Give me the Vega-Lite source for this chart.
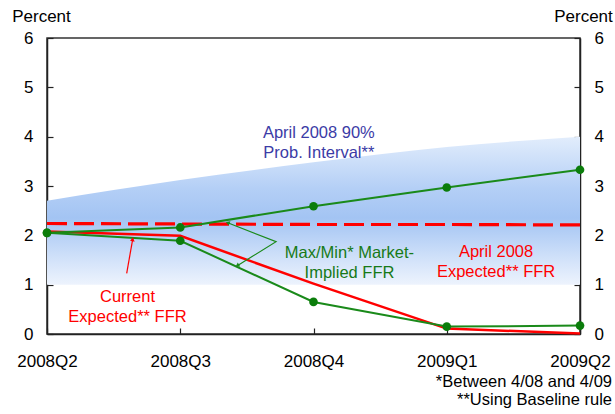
{
  "$schema": "https://vega.github.io/schema/vega-lite/v6.json",
  "width": 533,
  "height": 296,
  "autosize": {"type": "none"},
  "padding": {"left": 47, "top": 38, "right": 35, "bottom": 80},
  "config": {
    "view": {"stroke": "#333333", "strokeWidth": 1.5},
    "font": "Liberation Sans",
    "axis": {
      "labelFont": "Liberation Sans",
      "labelFontSize": 17,
      "labelColor": "#000000",
      "domainColor": "#222222",
      "domainWidth": 1.5,
      "tickColor": "#222222",
      "tickWidth": 1.2,
      "grid": false,
      "titleFont": "Liberation Sans",
      "titleFontSize": 17,
      "titleFontWeight": "normal",
      "titleColor": "#000000"
    }
  },
  "title": {
    "text": ["*Between 4/08 and 4/09", "**Using Baseline rule"],
    "orient": "bottom",
    "anchor": "end",
    "frame": "group",
    "fontSize": 16.5,
    "fontWeight": "normal",
    "font": "Liberation Sans",
    "color": "#000000",
    "dx": 32,
    "offset": 5,
    "lineHeight": 18
  },
  "datasets": {
    "band": [
      {"q": 0, "lo": 1.0, "hi": 2.7},
      {"q": 1, "lo": 1.0, "hi": 3.12},
      {"q": 2, "lo": 1.0, "hi": 3.48},
      {"q": 3, "lo": 1.0, "hi": 3.79},
      {"q": 4, "lo": 1.0, "hi": 4.0}
    ],
    "series": [
      {"q": 0, "s": "april", "v": 2.24},
      {"q": 1, "s": "april", "v": 2.23},
      {"q": 2, "s": "april", "v": 2.22},
      {"q": 3, "s": "april", "v": 2.22},
      {"q": 4, "s": "april", "v": 2.21},
      {"q": 0, "s": "current", "v": 2.08},
      {"q": 1, "s": "current", "v": 1.99},
      {"q": 2, "s": "current", "v": 1.02},
      {"q": 3, "s": "current", "v": 0.11},
      {"q": 4, "s": "current", "v": 0.01},
      {"q": 0, "s": "max", "v": 2.05},
      {"q": 1, "s": "max", "v": 2.16},
      {"q": 2, "s": "max", "v": 2.59},
      {"q": 3, "s": "max", "v": 2.97},
      {"q": 4, "s": "max", "v": 3.33},
      {"q": 0, "s": "min", "v": 2.05},
      {"q": 1, "s": "min", "v": 1.89},
      {"q": 2, "s": "min", "v": 0.65},
      {"q": 3, "s": "min", "v": 0.15},
      {"q": 4, "s": "min", "v": 0.17}
    ],
    "arrows": [
      {"a": "g", "o": 1, "x": 1.356, "y": 2.256},
      {"a": "g", "o": 2, "x": 1.719, "y": 1.871},
      {"a": "g", "o": 3, "x": 1.428, "y": 1.385},
      {"a": "r", "o": 1, "x": 0.598, "y": 1.23},
      {"a": "r", "o": 2, "x": 0.643, "y": 1.92}
    ],
    "heads": [
      {"h": "g1", "x": 1.356, "y": 2.256},
      {"h": "g2", "x": 1.428, "y": 1.385},
      {"h": "r", "x": 0.643, "y": 1.92}
    ],
    "notes": [
      {"k": "interval", "x": 2.04, "y": 4.07, "t": "April 2008 90%\nProb. Interval**"},
      {"k": "market", "x": 2.27, "y": 1.64, "t": "Max/Min* Market-\nImplied FFR"},
      {"k": "april", "x": 3.37, "y": 1.66, "t": "April 2008\nExpected** FFR"},
      {"k": "current", "x": 0.604, "y": 0.75, "t": "Current\nExpected** FFR"}
    ]
  },
  "resolve": {"axis": {"y": "independent"}},
  "layer": [
    {
      "layer": [
        {
          "data": {"name": "band"},
          "mark": {
            "type": "area",
            "interpolate": "monotone",
            "color": {
              "gradient": "linear",
              "x1": 0, "y1": 0, "x2": 0, "y2": 1,
              "stops": [
                {"offset": 0, "color": "#e2edfc"},
                {"offset": 0.35, "color": "#b4cff6"},
                {"offset": 0.55, "color": "#a3c4f3"},
                {"offset": 0.8, "color": "#cddff9"},
                {"offset": 1, "color": "#edf3fd"}
              ]
            }
          },
          "encoding": {
            "x": {
              "field": "q", "type": "quantitative",
              "scale": {"domain": [0, 4], "nice": false, "zero": false},
              "axis": {
                "values": [0, 1, 2, 3, 4],
                "labelExpr": "['2008Q2','2008Q3','2008Q4','2009Q1','2009Q2'][datum.value]",
                "tickSize": -6,
                "labelPadding": 25,
                "title": null,
                "labelFlush": false
              }
            },
            "y": {
              "field": "lo", "type": "quantitative",
              "scale": {"domain": [0, 6], "nice": false},
              "axis": {
                "values": [0, 1, 2, 3, 4, 5, 6],
                "tickSize": -6,
                "labelPadding": 20,
                "title": "Percent",
                "titleAngle": 0,
                "titleX": -6,
                "titleY": -21.5,
                "titleAlign": "center",
                "titleBaseline": "middle"
              }
            },
            "y2": {"field": "hi"}
          }
        },
        {
          "data": {"name": "series"},
          "transform": [{"filter": "datum.s === 'april'"}],
          "mark": {"type": "line", "color": "#ff0000", "strokeWidth": 3.2, "strokeDash": [20, 7]},
          "encoding": {
            "x": {"field": "q", "type": "quantitative"},
            "y": {"field": "v", "type": "quantitative", "title": "Percent"}
          }
        },
        {
          "data": {"name": "series"},
          "transform": [{"filter": "datum.s === 'current'"}],
          "mark": {"type": "line", "color": "#ff0000", "strokeWidth": 2.5},
          "encoding": {
            "x": {"field": "q", "type": "quantitative"},
            "y": {"field": "v", "type": "quantitative", "title": "Percent"}
          }
        },
        {
          "data": {"name": "series"},
          "transform": [{"filter": "datum.s === 'max' || datum.s === 'min'"}],
          "mark": {"type": "line", "color": "#1a8a1a", "strokeWidth": 2},
          "encoding": {
            "x": {"field": "q", "type": "quantitative"},
            "y": {"field": "v", "type": "quantitative", "title": "Percent"},
            "detail": {"field": "s"}
          }
        },
        {
          "data": {"name": "arrows"},
          "transform": [{"filter": "datum.a === 'g'"}],
          "mark": {"type": "line", "color": "#1a8a1a", "strokeWidth": 1.2},
          "encoding": {
            "x": {"field": "x", "type": "quantitative"},
            "y": {"field": "y", "type": "quantitative", "title": "Percent"},
            "order": {"field": "o"}
          }
        },
        {
          "data": {"name": "arrows"},
          "transform": [{"filter": "datum.a === 'r'"}],
          "mark": {"type": "line", "color": "#ff0000", "strokeWidth": 1.2},
          "encoding": {
            "x": {"field": "x", "type": "quantitative"},
            "y": {"field": "y", "type": "quantitative", "title": "Percent"},
            "order": {"field": "o"}
          }
        },
        {
          "data": {"name": "heads"},
          "transform": [{"filter": "datum.h === 'g1'"}],
          "mark": {"type": "point", "shape": "triangle-up", "filled": true, "size": 22, "angle": 291, "color": "#1a8a1a", "opacity": 1},
          "encoding": {
            "x": {"field": "x", "type": "quantitative"},
            "y": {"field": "y", "type": "quantitative", "title": "Percent"}
          }
        },
        {
          "data": {"name": "heads"},
          "transform": [{"filter": "datum.h === 'g2'"}],
          "mark": {"type": "point", "shape": "triangle-up", "filled": true, "size": 22, "angle": 238, "color": "#1a8a1a", "opacity": 1},
          "encoding": {
            "x": {"field": "x", "type": "quantitative"},
            "y": {"field": "y", "type": "quantitative", "title": "Percent"}
          }
        },
        {
          "data": {"name": "heads"},
          "transform": [{"filter": "datum.h === 'r'"}],
          "mark": {"type": "point", "shape": "triangle-up", "filled": true, "size": 22, "angle": 10, "color": "#ff0000", "opacity": 1},
          "encoding": {
            "x": {"field": "x", "type": "quantitative"},
            "y": {"field": "y", "type": "quantitative", "title": "Percent"}
          }
        },
        {
          "data": {"name": "notes"},
          "mark": {"type": "text", "fontSize": 16.5, "font": "Liberation Sans", "lineBreak": "\n", "lineHeight": 20, "align": "center", "baseline": "middle"},
          "encoding": {
            "x": {"field": "x", "type": "quantitative"},
            "y": {"field": "y", "type": "quantitative", "title": "Percent"},
            "text": {"field": "t"},
            "color": {
              "field": "k", "type": "nominal", "legend": null,
              "scale": {"domain": ["interval", "market", "april", "current"], "range": ["#3b3ba6", "#177a17", "#ff0000", "#ff0000"]}
            }
          }
        }
      ]
    },
    {
      "data": {"name": "series"},
      "transform": [{"filter": "datum.s === 'max' || datum.s === 'min'"}],
      "mark": {"type": "point", "filled": true, "size": 75, "color": "#0b7d0b", "opacity": 1},
      "encoding": {
        "x": {"field": "q", "type": "quantitative"},
        "y": {
          "field": "v", "type": "quantitative",
          "axis": {
            "orient": "right",
            "values": [0, 1, 2, 3, 4, 5, 6],
            "tickSize": -6,
            "labelPadding": 20,
            "title": "Percent",
            "titleAngle": 0,
            "titleX": 3,
            "titleY": -21.5,
            "titleAlign": "center",
            "titleBaseline": "middle"
          }
        }
      }
    }
  ]
}
